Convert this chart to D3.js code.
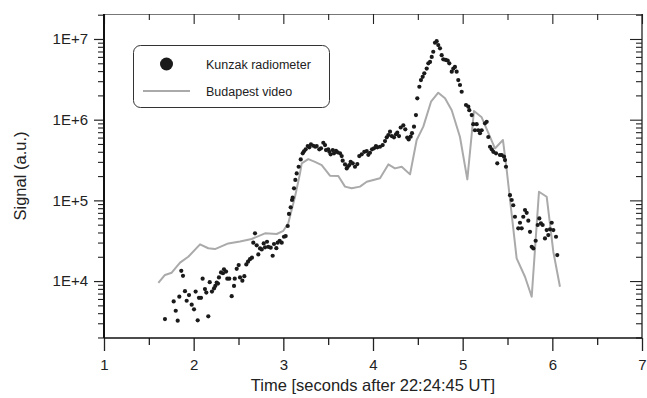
<!DOCTYPE html>
<html><head><meta charset="utf-8">
<script src="https://cdn.jsdelivr.net/npm/d3@7"></script>
<style>
html,body{margin:0;padding:0;background:#fff;}
svg{display:block;font-family:"Liberation Sans",Arial,sans-serif;}
</style></head>
<body><svg id="c" width="647" height="398"></svg>
<script>
const kunzakTime = [1.680,1.777,1.800,1.822,1.840,1.862,1.881,1.903,1.922,1.948,1.978,2.004,2.022,2.045,2.059,2.082,2.100,2.126,2.141,2.163,2.179,2.204,2.227,2.241,2.257,2.271,2.282,2.305,2.327,2.338,2.361,2.375,2.397,2.424,2.450,2.458,2.480,2.502,2.517,2.543,2.565,2.587,2.606,2.628,2.650,2.665,2.684,2.703,2.721,2.740,2.759,2.781,2.796,2.818,2.832,2.859,2.881,2.896,2.922,2.937,2.959,2.982,3.007,3.026,3.049,
3.063,3.082,3.097,3.104,3.119,3.134,3.149,3.171,3.194,3.216,3.230,3.249,3.272,3.290,3.308,3.334,3.356,3.372,3.401,3.420,3.446,3.465,3.476,3.501,3.513,3.528,3.551,3.565,3.587,3.606,3.632,3.651,3.662,3.688,3.707,3.718,3.736,3.751,3.774,3.799,3.825,3.847,3.874,3.903,3.930,3.948,3.966,3.989,4.011,4.033,4.048,4.078,4.108,4.134,4.153,4.171,4.190,4.209,4.234,4.256,4.271,4.290,4.309,4.338,4.360,4.382,4.398,4.420,4.435,4.457,
4.479,4.494,4.517,4.535,4.554,4.572,4.599,4.617,4.636,4.655,4.672,4.691,4.710,4.728,4.747,4.766,4.784,4.811,4.833,4.851,4.878,4.896,4.914,4.933,4.951,4.970,4.989,5.037,5.063,5.074,5.101,5.118,5.137,5.156,5.174,5.193,5.212,5.249,5.268,5.286,5.305,5.324,5.342,5.372,5.386,5.416,5.435,5.461,5.472,5.483,5.528,5.547,5.564,
5.583,5.620,5.639,5.658,5.676,5.695,5.714,5.732,5.751,5.770,5.788,5.814,5.837,5.855,5.873,5.892,5.918,5.937,5.955,5.974,5.993,6.011,6.041,6.055];
const kunzakSignal = [3380,5600,4290,3230,6400,13400,11600,7500,5700,6700,5100,4460,7400,3260,6200,6200,10700,7960,7200,3660,9700,7400,8100,8700,9600,9300,11100,12800,12500,14000,13100,10700,10700,6500,8700,10700,14200,15800,11100,10100,11500,16100,17400,18700,19500,29900,39000,27700,21400,25400,24700,29300,26200,30700,26600,25900,20600,28800,25600,29900,31600,29900,35400,36100,48100,
68000,82000,101000,108000,141000,179000,216000,261000,322000,383000,405000,429000,471000,454000,494000,475000,462000,471000,429000,441000,518000,485000,420000,429000,400000,372000,420000,383000,412000,394000,383000,354000,310000,279000,249000,261000,274000,301000,288000,261000,282000,354000,372000,400000,408000,367000,389000,429000,441000,471000,454000,462000,485000,543000,604000,645000,710000,627000,604000,660000,690000,627000,800000,850000,760000,600000,570000,615000,680000,820000,
1.14e6,1.84e6,2.56e6,3.1e6,3.4e6,3.75e6,4.3e6,4.99e6,5.2e6,6.0e6,6.95e6,8.98e6,9.4e6,8.4e6,7.65e6,6.3e6,5.6e6,5.5e6,5.4e6,5.0e6,3.93e6,4.3e6,4.5e6,3.93e6,3.1e6,2.69e6,2.22e6,1.52e6,1.45e6,1.31e6,1.14e6,8.8e5,7.4e5,8.8e5,7.4e5,6.8e5,7.4e5,9.0e5,9.4e5,6.1e5,4.62e5,4.29e5,4.0e5,3.83e5,2.88e5,3.65e5,3.65e5,3.48e5,3.16e5,2.61e5,1.16e5,1.01e5,8.7e4,
62700,45000,52800,45000,62700,76000,70000,56000,40800,26600,25400,31600,49500,59800,52000,49500,33800,42900,37200,43800,52800,42900,35400,21000];

const budapestTime = [1.606,1.680,1.755,1.848,1.940,2.071,2.163,2.238,2.386,2.517,2.647,2.796,2.926,3.000,3.055,3.074,3.130,3.186,3.205,3.278,3.353,3.428,3.520,3.613,3.688,3.762,3.855,3.930,4.078,4.171,4.245,4.320,4.413,4.487,4.561,4.647,4.728,4.803,4.878,4.970,5.052,5.126,5.212,5.360,5.449,5.491,5.602,5.695,5.770,5.851,5.937,6.011,6.085];
const budapestSignal = [9500,11900,12700,16900,20000,28500,25500,24900,29300,31000,33200,39000,38300,42000,52000,63000,111000,216000,288000,325000,300000,274000,202000,200000,148000,141000,148000,170000,188000,279000,249000,261000,210000,560000,820000,1.67e6,2.16e6,1.84e6,1.31e6,6.1e5,1.82e5,1.28e6,1.07e6,4.4e5,5.6e5,2.38e5,19100,11300,6400,128000,111000,23100,8500];

const xTicks = [1,2,3,4,5,6,7];
const xMinorTicks = [1.5,2.5,3.5,4.5,5.5,6.5];
const yTicks = [1e4,1e5,1e6,1e7];
const yTickLabels = ["1E+4","1E+5","1E+6","1E+7"];
const seriesNames = ["Kunzak radiometer","Budapest video"];
const xTitle = "Time [seconds after 22:24:45 UT]";
const yTitle = "Signal (a.u.)";

const W=647,H=398, L=104, R=642, T=14, B=338;
const svg=d3.select("#c");
const x=d3.scaleLinear().domain([1,7]).range([L,R]);
const y=d3.scaleLog().domain([1970,2.04e7]).range([B,T]);
const yMinor=[];
[1e3,1e4,1e5,1e6,1e7].forEach(d=>{for(let k=2;k<=9;k++){const v=d*k; if(v>=y.domain()[0]&&v<=y.domain()[1]) yMinor.push(v);}});
const ink="#222";

// frame top/right
svg.append("line").attr("x1",L).attr("x2",R).attr("y1",T+0.5).attr("y2",T+0.5).attr("stroke","#777").attr("stroke-width",1.2);
svg.append("line").attr("x1",R).attr("x2",R).attr("y1",T).attr("y2",B).attr("stroke","#333").attr("stroke-width",1.4);

function styleAxis(g,w){g.select(".domain").remove();g.selectAll("line").attr("stroke",ink).attr("stroke-width",w||1);}

// bottom axis
const gb=svg.append("g").attr("transform",`translate(0,${B})`)
  .call(d3.axisBottom(x).tickValues(xTicks).tickSize(13).tickPadding(8).tickFormat(d3.format("d")));
styleAxis(gb,1.3);
gb.selectAll("text").attr("font-size",15).attr("fill",ink).attr("font-family","Liberation Sans, Arial");
const gbm=svg.append("g").attr("transform",`translate(0,${B})`).call(d3.axisBottom(x).tickValues(xMinorTicks).tickSize(7).tickFormat(""));
styleAxis(gbm,1.3);
// top inward ticks
const gt=svg.append("g").attr("transform",`translate(0,${T})`).call(d3.axisBottom(x).tickValues(xTicks).tickSize(10).tickFormat(""));
styleAxis(gt,1.1);
const gtm=svg.append("g").attr("transform",`translate(0,${T})`).call(d3.axisBottom(x).tickValues(xMinorTicks).tickSize(6).tickFormat(""));
styleAxis(gtm,1.1);

// left axis
const gl=svg.append("g").attr("transform",`translate(${L},0)`)
  .call(d3.axisLeft(y).tickValues(yTicks).tickSize(10).tickPadding(6).tickFormat((d,i)=>yTickLabels[i]));
styleAxis(gl,1.2);
gl.selectAll("text").attr("font-size",15).attr("fill",ink).attr("font-family","Liberation Sans, Arial");
const glm=svg.append("g").attr("transform",`translate(${L},0)`).call(d3.axisLeft(y).tickValues(yMinor).tickSize(6).tickFormat(""));
styleAxis(glm,1.1);
// right inward ticks
const gr=svg.append("g").attr("transform",`translate(${R},0)`).call(d3.axisLeft(y).tickValues(yTicks).tickSize(12).tickFormat(""));
styleAxis(gr,1.1);
const grm=svg.append("g").attr("transform",`translate(${R},0)`).call(d3.axisLeft(y).tickValues(yMinor).tickSize(6).tickFormat(""));
styleAxis(grm,1.1);

// axis lines bottom/left
svg.append("line").attr("x1",L).attr("x2",R).attr("y1",B).attr("y2",B).attr("stroke","#111").attr("stroke-width",1.6);
svg.append("line").attr("x1",L).attr("x2",L).attr("y1",T).attr("y2",B).attr("stroke","#111").attr("stroke-width",2);

// line series
const bud=budapestTime.map((t,i)=>[t,budapestSignal[i]]);
svg.append("path").datum(bud).attr("fill","none").attr("stroke","#aaa").attr("stroke-width",2).attr("stroke-linejoin","round")
  .attr("d",d3.line().x(d=>x(d[0])).y(d=>y(d[1])));

// dots
const kun=kunzakTime.map((t,i)=>[t,kunzakSignal[i]]);
svg.append("g").selectAll("circle").data(kun).join("circle")
  .attr("cx",d=>x(d[0])).attr("cy",d=>y(d[1])).attr("r",2.1).attr("fill","#1a1a1a");

// titles
svg.append("text").attr("x",(L+R)/2).attr("y",391).attr("text-anchor","middle").attr("font-size",16.5).attr("fill",ink).text(xTitle);
svg.append("text").attr("transform",`translate(26,${(T+B)/2}) rotate(-90)`).attr("text-anchor","middle").attr("font-size",16.5).attr("fill",ink).text(yTitle);

// legend
const lg=svg.append("g");
lg.append("rect").attr("x",133.5).attr("y",45.5).attr("width",196).attr("height",62).attr("rx",7).attr("fill","#fff").attr("stroke","#333").attr("stroke-width",1);
lg.append("circle").attr("cx",166.5).attr("cy",64).attr("r",6.5).attr("fill","#1a1a1a");
lg.append("line").attr("x1",143).attr("x2",190).attr("y1",91).attr("y2",91).attr("stroke","#aaa").attr("stroke-width",2);
lg.append("text").attr("x",206).attr("y",68.5).attr("font-size",12.5).attr("fill",ink).text(seriesNames[0]);
lg.append("text").attr("x",206).attr("y",95.5).attr("font-size",12.5).attr("fill",ink).text(seriesNames[1]);
</script></body></html>
